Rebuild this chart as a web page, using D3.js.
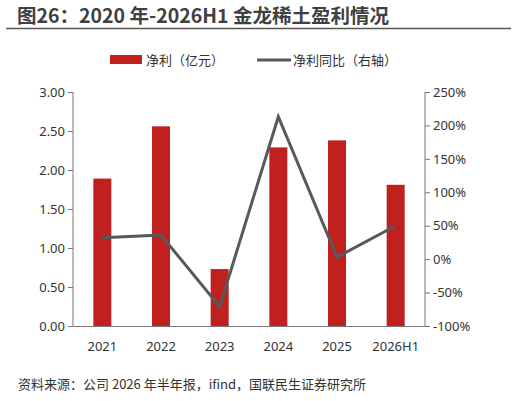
<!DOCTYPE html>
<html><head><meta charset="utf-8">
<script src="https://cdn.jsdelivr.net/npm/d3@7/dist/d3.min.js"></script>
<style>body{margin:0;background:#fff;font-family:"Noto Sans CJK SC","Noto Sans",sans-serif;}</style>
</head><body><svg id="c" width="516" height="401"></svg>
<script>
const categories = ['2021', '2022', '2023', '2024', '2025', '2026H1'];
const profit = [1.89, 2.56, 0.73, 2.29, 2.38, 1.81];
const yoy = [32, 36, -71, 213, 3, 50];
const leftTicks = [0, 0.5, 1, 1.5, 2, 2.5, 3];
const rightTicks = [-100, -50, 0, 50, 100, 150, 200, 250];

const svg = d3.select('#c');
const red = '#c0201e', grey = '#555a5f', txt = '#333';
const m = {l: 73, r: 425, t: 92, b: 326};

svg.append('text').attr('x', 17).attr('y', 23).attr('font-size', 19.5).attr('font-weight', 'bold')
  .attr('fill', '#404040').text('图26：2020 年-2026H1 金龙稀土盈利情况');
svg.append('line').attr('x1', 6).attr('x2', 511).attr('y1', 28.5).attr('y2', 28.5).attr('stroke', '#555').attr('stroke-width', 1.5);

const x = d3.scaleBand().domain(categories).range([m.l, m.r]);
const yL = d3.scaleLinear().domain([0, 3]).range([m.b, m.t]);
const yR = d3.scaleLinear().domain([-100, 250]).range([m.b, m.t]);

svg.selectAll('rect.bar').data(profit).join('rect').attr('class', 'bar')
  .attr('x', (d, i) => x(categories[i]) + x.bandwidth() / 2 - 9).attr('width', 18)
  .attr('y', d => yL(d)).attr('height', d => yL(0) - yL(d)).attr('fill', red);

svg.append('path').datum(yoy)
  .attr('d', d3.line().x((d, i) => x(categories[i]) + x.bandwidth() / 2).y(d => yR(d)))
  .attr('fill', 'none').attr('stroke', grey).attr('stroke-width', 3);

const gl = svg.append('g').attr('transform', `translate(${m.l},0)`)
  .call(d3.axisLeft(yL).tickValues(leftTicks).tickFormat(d3.format('.2f')).tickSize(5));
const gr = svg.append('g').attr('transform', `translate(${m.r},0)`)
  .call(d3.axisRight(yR).tickValues(rightTicks).tickFormat(d => d + '%').tickSize(5));
const gb = svg.append('g').attr('transform', `translate(0,${m.b})`)
  .call(d3.axisBottom(x).tickSize(0).tickPadding(16));
[gl, gr, gb].forEach(g => {
  g.selectAll('path,line').attr('stroke', '#777');
  g.selectAll('text').attr('font-size', 13).attr('fill', txt).attr('font-family', '"Noto Sans","Noto Sans CJK SC",sans-serif');
});
gl.select('.domain').attr('d', `M0,${m.t}V${m.b}`);
gr.select('.domain').attr('d', `M0,${m.t}V${m.b}`);

const lg = svg.append('g').attr('font-size', 13).attr('fill', txt);
lg.append('rect').attr('x', 110).attr('y', 55).attr('width', 32).attr('height', 9).attr('fill', red);
lg.append('text').attr('x', 146).attr('y', 65).text('净利（亿元）');
lg.append('line').attr('x1', 257).attr('x2', 291).attr('y1', 60).attr('y2', 60).attr('stroke', grey).attr('stroke-width', 3);
lg.append('text').attr('x', 293).attr('y', 65).text('净利同比（右轴）');

svg.append('text').attr('x', 18).attr('y', 389).attr('font-size', 13).attr('fill', txt)
  .text('资料来源：公司 2026 年半年报，ifind，国联民生证券研究所');
</script></body></html>
